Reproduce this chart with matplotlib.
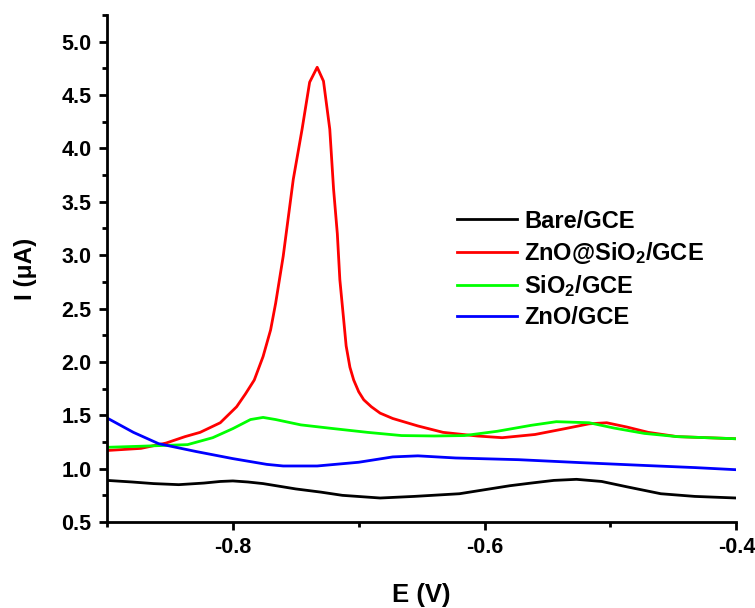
import matplotlib
matplotlib.use("Agg")
import matplotlib.pyplot as plt
from matplotlib.ticker import MultipleLocator

plt.rcParams['font.family'] = ['Liberation Sans', 'DejaVu Sans']
plt.rcParams['font.weight'] = 'bold'
plt.rcParams['mathtext.fontset'] = 'custom'
plt.rcParams['mathtext.rm'] = 'Liberation Sans:bold'
plt.rcParams['mathtext.default'] = 'rm'

# valori
bare_x = [-0.9, -0.88, -0.863, -0.843, -0.823, -0.81, -0.8, -0.788, -0.776, -0.763, -0.75,
          -0.73, -0.713, -0.683, -0.656, -0.62, -0.596, -0.58, -0.563, -0.545, -0.527,
          -0.507, -0.487, -0.46, -0.433, -0.4]
bare_y = [0.89, 0.875, 0.86, 0.85, 0.865, 0.88, 0.885, 0.875, 0.86, 0.835, 0.81,
          0.78, 0.75, 0.725, 0.74, 0.765, 0.81, 0.84, 0.865, 0.89, 0.90,
          0.88, 0.83, 0.765, 0.74, 0.725]

zno_sio2_x = [-0.9, -0.873, -0.853, -0.838, -0.826, -0.81, -0.797, -0.79, -0.783, -0.776,
              -0.770, -0.766, -0.763, -0.76, -0.756, -0.752, -0.745, -0.739, -0.733, -0.728,
              -0.723, -0.72, -0.717, -0.715, -0.712, -0.710, -0.707, -0.704, -0.700, -0.696,
              -0.690, -0.683, -0.673, -0.653, -0.633, -0.606, -0.586, -0.56, -0.536, -0.517,
              -0.503, -0.487, -0.47, -0.447, -0.4]
zno_sio2_y = [1.17, 1.19, 1.24, 1.30, 1.34, 1.43, 1.58, 1.70, 1.83, 2.05,
              2.30, 2.55, 2.77, 2.99, 3.35, 3.71, 4.18, 4.62, 4.76, 4.63,
              4.18, 3.62, 3.2, 2.77, 2.4, 2.15, 1.95, 1.83, 1.72, 1.645,
              1.58, 1.52, 1.47, 1.40, 1.34, 1.306, 1.29, 1.32, 1.375, 1.42,
              1.43, 1.39, 1.34, 1.30, 1.28]

sio2_x = [-0.9, -0.873, -0.836, -0.816, -0.8, -0.786, -0.776, -0.766, -0.746, -0.72,
          -0.693, -0.666, -0.64, -0.616, -0.59, -0.563, -0.543, -0.517, -0.497, -0.473,
          -0.447, -0.4]
sio2_y = [1.20, 1.21, 1.225, 1.29, 1.375, 1.46, 1.48, 1.46, 1.41, 1.375,
          1.34, 1.31, 1.306, 1.31, 1.35, 1.406, 1.44, 1.43, 1.38, 1.33,
          1.30, 1.28]

zno_x = [-0.9, -0.879, -0.859, -0.829, -0.8, -0.773, -0.76, -0.733, -0.7, -0.673,
         -0.653, -0.623, -0.573, -0.523, -0.473, -0.433, -0.4]
zno_y = [1.475, 1.34, 1.234, 1.16, 1.094, 1.04, 1.025, 1.025, 1.06, 1.11,
         1.12, 1.10, 1.084, 1.056, 1.03, 1.01, 0.99]

fig = plt.figure(figsize=(7.55, 6.08), dpi=100)
ax = fig.add_axes([0.1417, 0.1414, 0.8336, 0.834])

ax.plot(bare_x, bare_y, color='black', lw=2.0, label='Bare/GCE')
ax.plot(zno_sio2_x, zno_sio2_y, color='#ff0000', lw=2.0, label='ZnO@SiO$_2$/GCE')
ax.plot(sio2_x, sio2_y, color='#00ff00', lw=2.0, label='SiO$_2$/GCE')
ax.plot(zno_x, zno_y, color='#0000ff', lw=2.0, label='ZnO/GCE')

ax.set_xlim(-0.9, -0.4)
ax.set_ylim(0.5, 5.25)
ax.xaxis.set_minor_locator(MultipleLocator(0.1))
ax.yaxis.set_major_locator(MultipleLocator(0.5))
ax.yaxis.set_minor_locator(MultipleLocator(0.25))
ax.set_xticks([-0.8, -0.6, -0.4])
ax.set_xticklabels(['-0.8', '-0.6', '-0.4'])

for s in ['top', 'right']:
    ax.spines[s].set_visible(False)
for s in ['left', 'bottom']:
    ax.spines[s].set_linewidth(2.0)
ax.tick_params(which='major', direction='out', length=6, width=2.0, labelsize=15.5, pad=5)
ax.tick_params(which='minor', direction='out', length=3.5, width=2.0)

ax.set_xlabel('E (V)', fontsize=18.5, fontweight='bold', labelpad=18)
ax.set_ylabel('I (μA)', fontsize=17.5, fontweight='bold', labelpad=18)

ax.legend(loc='upper left', bbox_to_anchor=(0.605, 0.655), bbox_transform=fig.transFigure,
          frameon=False, fontsize=17, handlelength=2.55, handletextpad=0.3,
          labelspacing=0.3, borderpad=0, borderaxespad=0)

fig.savefig('out.png', dpi=100)
